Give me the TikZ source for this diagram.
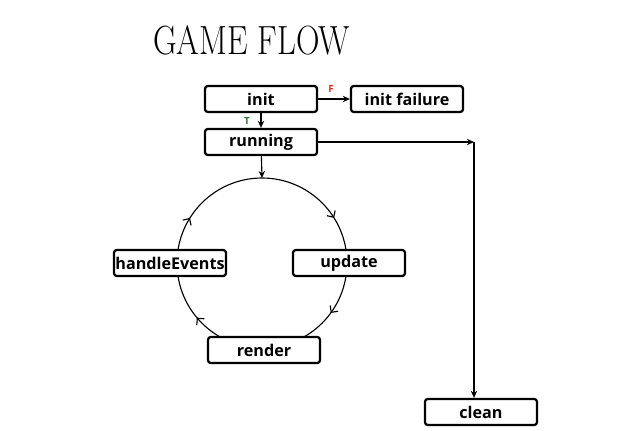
\documentclass[tikz,border=0pt]{standalone}
\usepackage{fontspec}
\setsansfont{Open Sans}
\usepackage{graphicx}
\usepackage{tikz}
\usetikzlibrary{positioning, arrows.meta, decorations.markings}
\definecolor{falsered}{RGB}{232, 45, 35}
\definecolor{truegreen}{RGB}{45, 120, 45}

\begin{document}
\begin{tikzpicture}[x=0.025cm, y=0.025cm,
    box/.style={draw, line width=1.6pt, rounded corners=2pt, fill=white,
        minimum width=2.8cm, minimum height=0.65cm, inner sep=0pt,
        font=\sffamily\bfseries\fontsize{11.5}{13}\selectfont},
    flow/.style={thick, -{Stealth[length=5pt, width=4.5pt]}},
    flag/.style={font=\sffamily\bfseries\fontsize{7}{8}\selectfont},
    loopmark/.style={decoration={markings,
        mark=at position 0.161 with {\arrow{Straight Barb[length=3.5pt, width=7pt]}},
        mark=at position 0.350 with {\arrow{Straight Barb[length=3.5pt, width=7pt]}},
        mark=at position 0.639 with {\arrow{Straight Barb[length=3.5pt, width=7pt]}},
        mark=at position 0.839 with {\arrow{Straight Barb[length=3.5pt, width=7pt]}}},
        postaction=decorate}
]
    \useasboundingbox (0,0) rectangle (630,430);
    \node (title) at (251.5,390) {\scalebox{0.8}[1]{\fontsize{29}{30}\selectfont GAME FLOW}};

    \coordinate (loopc) at (262,167);
    \coordinate (looptop) at (262,252);
    \draw[thick, loopmark] (looptop) arc[start angle=90, end angle=-270, radius=85];

    \node[box] (init) at (261,331) {init};
    \node[box] (initfail) at (407,331) {init failure};
    \node[box] (running) at (261,288) {running};
    \node[box] (handle) at (170,167) {handleEvents};
    \node[box] (update) at (349,167) {update};
    \node[box] (render) at (264,80) {render};
    \node[box] (clean) at (481,18) {clean};
    \coordinate (corner) at (474,288);

    \draw[flow] (init) -- (running);
    \draw[flow] (init) -- (initfail);
    \node[flag, text=falsered] (flagF) at (331,341) {F};
    \node[flag, text=truegreen] (flagT) at (247,309) {T};
    \draw[flow] (running) -- (looptop);
    \draw[flow] (running) -- (corner);
    \draw[flow] (corner) -- (corner |- clean.north);
\end{tikzpicture}
\end{document}
